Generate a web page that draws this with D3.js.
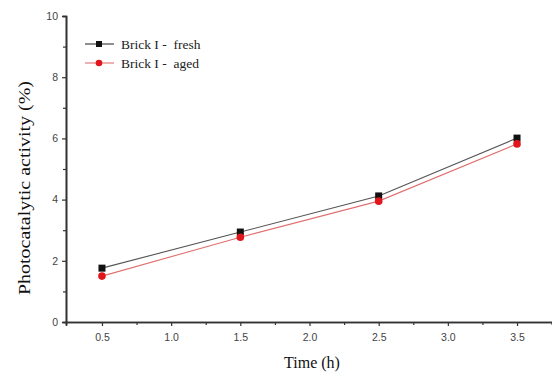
<!DOCTYPE html>
<html><head><meta charset="utf-8">
<script src="https://cdn.jsdelivr.net/npm/d3@7/dist/d3.min.js"></script>
<style>body{margin:0;background:#fff}svg{display:block}</style>
</head><body>
<svg id="c" width="552" height="374"></svg>
<script>
const times = [0.5, 1.5, 2.5, 3.5];
const fresh = [1.76, 2.94, 4.12, 6.01];
const aged = [1.50, 2.77, 3.95, 5.82];
const seriesNames = ["Brick I -  fresh", "Brick I -  aged"];
const xTicks = [0.5, 1.0, 1.5, 2.0, 2.5, 3.0, 3.5];
const yTicks = [0, 2, 4, 6, 8, 10];

const svg = d3.select("#c");
const x = d3.scaleLinear().domain([0.24, 3.76]).range([66, 553]);
const y = d3.scaleLinear().domain([0, 10]).range([322, 16]);

const minorX = d3.range(0.75, 3.76, 0.5);
const minorY = [1,3,5,7,9];

svg.append("g").attr("transform","translate(0,322)")
  .call(d3.axisBottom(x).tickValues(xTicks).tickFormat(d3.format(".1f")).tickSizeOuter(0).tickSize(4).tickPadding(8));
svg.append("g").attr("transform","translate(0,322)")
  .call(d3.axisBottom(x).tickValues(minorX).tickFormat("").tickSizeOuter(0).tickSize(3));
svg.append("g").attr("transform","translate(66,0)")
  .call(d3.axisLeft(y).tickValues(yTicks).tickFormat(d3.format("d")).tickSizeOuter(0).tickSize(4).tickPadding(4));
svg.append("g").attr("transform","translate(66,0)")
  .call(d3.axisLeft(y).tickValues(minorY).tickFormat("").tickSizeOuter(0).tickSize(3));
svg.selectAll(".domain").attr("stroke","#333").attr("stroke-width",1.6);
svg.selectAll(".tick line").attr("stroke","#333").attr("stroke-width",1.2);
svg.selectAll(".tick text").attr("font-family","Liberation Sans, Arial, sans-serif").attr("font-size",10.5).attr("fill","#444");

svg.append("text").attr("x",312).attr("y",368).attr("text-anchor","middle")
  .attr("font-family","Liberation Serif, Times New Roman, serif").attr("font-size",16).attr("fill","#111").text("Time (h)");
svg.append("text").attr("transform","translate(30,188) rotate(-90)").attr("text-anchor","middle")
  .attr("font-family","Liberation Serif, Times New Roman, serif").attr("font-size",16).attr("fill","#111")
  .attr("textLength",214).attr("lengthAdjust","spacingAndGlyphs").text("Photocatalytic activity (%)");

const line = d3.line().x((d,i)=>x(times[i])).y(d=>y(d));
svg.append("path").datum(fresh).attr("d",line).attr("fill","none").attr("stroke","#555").attr("stroke-width",1.1);
svg.append("path").datum(aged).attr("d",line).attr("fill","none").attr("stroke","#e07070").attr("stroke-width",1.1);

svg.selectAll(".sq").data(fresh).enter().append("rect")
  .attr("x",(d,i)=>x(times[i])-3.5).attr("y",d=>y(d)-3.5).attr("width",7).attr("height",7).attr("fill","#111");
svg.selectAll(".ci").data(aged).enter().append("circle")
  .attr("cx",(d,i)=>x(times[i])).attr("cy",d=>y(d)).attr("r",3.8).attr("fill","#e0161c");

const ly = [44, 63];
const lg = svg.append("g");
[0,1].forEach(k=>{
  lg.append("line").attr("x1",85).attr("x2",114).attr("y1",ly[k]).attr("y2",ly[k])
    .attr("stroke", k===0?"#333":"#e07070").attr("stroke-width",1.1);
  if(k===0) lg.append("rect").attr("x",96).attr("y",ly[k]-3).attr("width",6).attr("height",6).attr("fill","#111");
  else lg.append("circle").attr("cx",99).attr("cy",ly[k]).attr("r",3.3).attr("fill","#e0161c");
  lg.append("text").attr("x",121).attr("y",ly[k]+4.5).attr("font-family","Liberation Serif, Times New Roman, serif")
    .attr("font-size",13.5).attr("fill","#222").style("white-space","pre").text(seriesNames[k]);
});
</script>
</body></html>
